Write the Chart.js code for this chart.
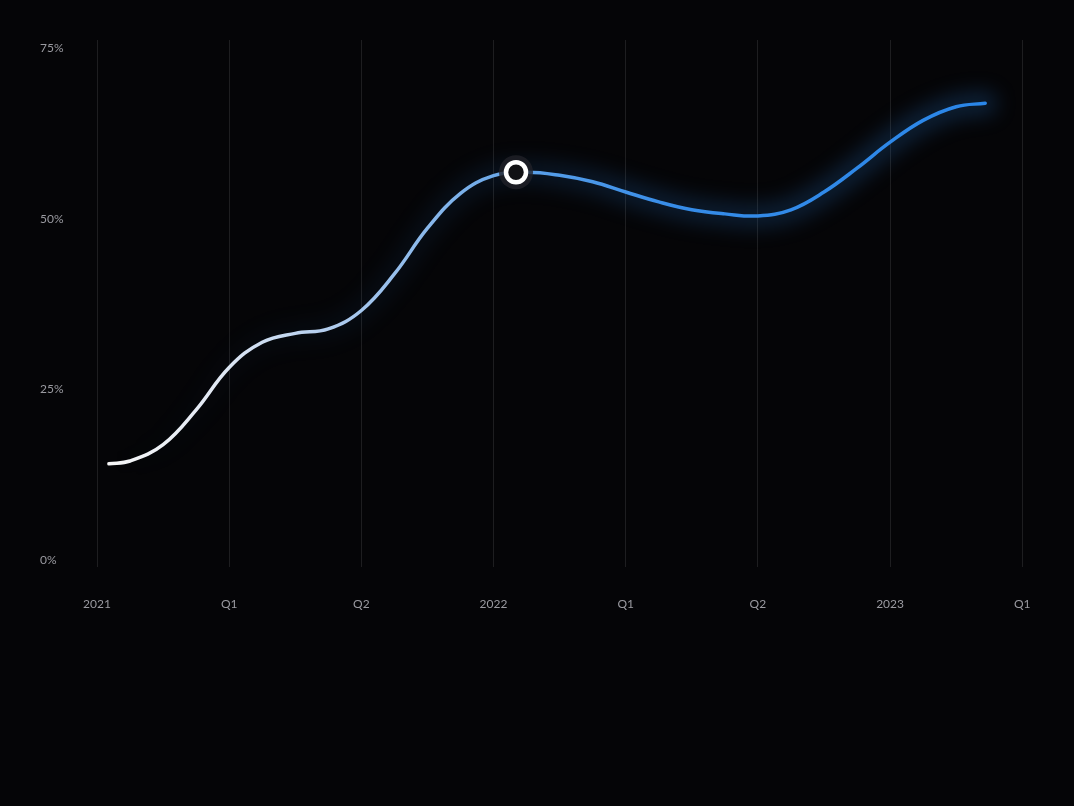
<!DOCTYPE html>
<html>
<head>
<meta charset="utf-8">
<script src="https://cdn.jsdelivr.net/npm/chart.js@4"></script>
<style>
  html, body { margin: 0; padding: 0; background: #050507; }
  #wrap { width: 1074px; height: 806px; position: relative; }
</style>
</head>
<body>
<div id="wrap"><canvas id="c"></canvas></div>
<script>
// ---- data ----
const tickLabels = ['2021', 'Q1', 'Q2', '2022', 'Q1', 'Q2', '2023', 'Q1'];
const tickPositions = [0, 1, 2, 3, 4, 5, 6, 7];
const yTicks = [0, 25, 50, 75];
const xValues = [0.09, 0.25, 0.50, 0.75, 1.00, 1.25, 1.50, 1.75, 2.00, 2.25, 2.50, 2.75, 3.00, 3.25, 3.50, 3.75, 4.00, 4.25, 4.50, 4.75, 5.00, 5.25, 5.50, 5.75, 6.00, 6.25, 6.50, 6.72];
const yValues = [14.1, 14.5, 16.9, 22.0, 28.2, 31.9, 33.2, 33.85, 36.55, 41.9, 48.6, 53.7, 56.3, 56.8, 56.35, 55.4, 53.9, 52.45, 51.3, 50.7, 50.4, 51.3, 53.9, 57.4, 61.2, 64.4, 66.4, 66.9];
const markerX = [3.17];
const markerY = [56.8];

const linePoints = xValues.map((x, i) => ({ x: x, y: yValues[i] }));
const markerPoints = markerX.map((x, i) => ({ x: x, y: markerY[i] }));

function lineGradient(ctx, alpha) {
  const chart = ctx.chart;
  const area = chart.chartArea;
  if (!area) return '#ffffff';
  const sx = chart.scales.x;
  const x0 = sx.getPixelForValue(xValues[0]);
  const x1 = sx.getPixelForValue(xValues[xValues.length - 1]);
  const g = chart.ctx.createLinearGradient(x0, 0, x1, 0);
  if (alpha === undefined) {
    g.addColorStop(0, '#f7f7f7');
    g.addColorStop(0.12, '#e2e9f4');
    g.addColorStop(0.25, '#b2cdee');
    g.addColorStop(0.40, '#7cb1ea');
    g.addColorStop(0.50, '#559de8');
    g.addColorStop(0.65, '#368ce8');
    g.addColorStop(1, '#2a86e8');
  } else {
    g.addColorStop(0, 'rgba(42,134,232,0)');
    g.addColorStop(0.35, 'rgba(42,134,232,' + (alpha * 0.3) + ')');
    g.addColorStop(0.6, 'rgba(42,134,232,' + (alpha * 0.8) + ')');
    g.addColorStop(1, 'rgba(42,134,232,' + alpha + ')');
  }
  return g;
}

const glowPlugin = {
  id: 'glow',
  beforeDatasetDraw(chart, args) {
    const ds = chart.data.datasets[args.index];
    if (ds.glow) {
      chart.ctx.save();
      chart.ctx.filter = 'blur(10px)';
    }
  },
  afterDatasetDraw(chart, args) {
    const ds = chart.data.datasets[args.index];
    if (ds.glow) {
      chart.ctx.restore();
    }
  }
};

new Chart(document.getElementById('c'), {
  type: 'line',
  data: {
    datasets: [
      {
        data: markerPoints,
        showLine: false,
        pointRadius: 10,
        pointBorderWidth: 4.5,
        pointBorderColor: '#ffffff',
        pointBackgroundColor: '#111114',
        order: 0
      },
      {
        data: markerPoints,
        showLine: false,
        pointRadius: 17,
        pointBorderWidth: 0,
        pointBackgroundColor: 'rgba(34,34,40,0.8)',
        order: 1
      },
      {
        data: linePoints,
        borderColor: ctx => lineGradient(ctx),
        borderWidth: 3.5,
        borderCapStyle: 'round',
        pointRadius: 0,
        tension: 0.4,
        fill: false,
        order: 2
      },
      {
        data: linePoints,
        glow: true,
        borderColor: ctx => lineGradient(ctx, 0.22),
        borderWidth: 24,
        borderCapStyle: 'round',
        pointRadius: 0,
        tension: 0.4,
        fill: false,
        order: 3
      }
    ]
  },
  options: {
    responsive: true,
    maintainAspectRatio: false,
    animation: false,
    events: [],
    layout: { padding: { left: 40, right: 24, top: 40, bottom: 186 } },
    plugins: {
      legend: { display: false },
      tooltip: { enabled: false }
    },
    scales: {
      x: {
        type: 'linear',
        min: -0.1665,
        max: 7.21,
        afterBuildTicks: s => { s.ticks = tickPositions.map(v => ({ value: v })); },
        afterFit: s => { s.height = 60; },
        border: { display: false },
        grid: {
          color: 'rgba(255,255,255,0.10)',
          lineWidth: 1,
          drawTicks: true,
          tickLength: 7,
          tickColor: 'rgba(255,255,255,0.10)'
        },
        ticks: {
          padding: 30,
          color: '#9a9aa0',
          font: { family: 'Lato', size: 12 },
          maxRotation: 0,
          autoSkip: false,
          callback: (v) => {
            const i = tickPositions.indexOf(v);
            return i >= 0 ? tickLabels[i] : '';
          }
        }
      },
      y: {
        min: 0,
        max: 76.17,
        afterBuildTicks: s => { s.ticks = yTicks.map(v => ({ value: v })); },
        afterFit: s => { s.width = 35; },
        border: { display: false },
        grid: { display: false },
        ticks: {
          crossAlign: 'far',
          color: '#9a9aa0',
          font: { family: 'Lato', size: 12 },
          callback: v => v + '%'
        }
      }
    }
  },
  plugins: [glowPlugin]
});
</script>
</body>
</html>
